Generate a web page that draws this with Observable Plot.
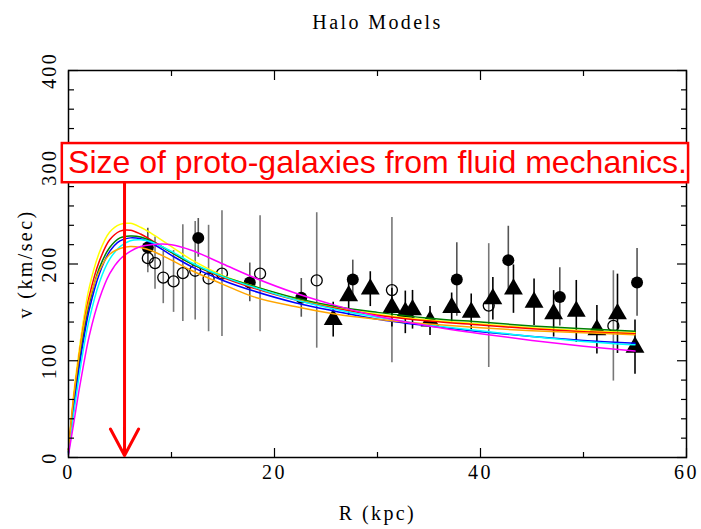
<!DOCTYPE html>
<html>
<head>
<meta charset="utf-8">
<script src="https://cdn.jsdelivr.net/npm/d3@7"></script>
<script src="https://cdn.jsdelivr.net/npm/@observablehq/plot@0.6"></script>
<style>
  html, body { margin: 0; padding: 0; background: #fff; }
  #chart svg { display: block; }
  #chart .lbl, #chart .lbl text { letter-spacing: 2.4px; }
</style>
</head>
<body>
<div id="chart"></div>
<script>
// ---------- data ----------
const title = "Halo Models";
const xLabel = "R (kpc)";
const yLabel = "v (km/sec)";
const xMajor = [0, 20, 40, 60];
const xMinor = [10, 30, 50];
const yMajor = [0, 100, 200, 300, 400];
const yMinor = [20, 40, 60, 80, 120, 140, 160, 180, 220, 240, 260, 280, 320, 340, 360, 380];

// filled circles
const filledR = [7.7, 12.6, 17.6, 22.6, 27.6, 37.7, 42.7, 47.7, 55.2];
const filledV = [217, 227, 181, 165, 184, 184, 204, 166, 181];
const filledE = [20, 20, 20, 20, 20, 38, 35, 30, 35];

// open circles
const openR = [7.7, 8.4, 9.2, 10.2, 11.1, 12.3, 13.6, 14.9, 18.6, 24.1, 31.4, 40.8, 52.9];
const openV = [206, 201, 186, 182, 190.5, 193, 185, 190, 190, 183, 173, 157, 136];
const openE = [15, 27, 27, 32, 50, 51, 55, 65, 60, 70, 75, 64, 57];

// filled triangles
const triR = [25.7, 27.2, 29.3, 31.4, 32.7, 33.4, 35.1, 37.2, 39.1, 41.2, 43.2, 45.2, 47.1, 49.3, 51.3, 53.3, 55.0];
const triV = [142.5, 167, 174, 155, 150, 152.7, 141, 155, 150, 164, 174, 160.5, 148.5, 151, 132, 148.5, 114];
const triE = [18, 20, 18, 20, 22, 20, 15, 15, 19, 22, 25, 24, 24, 32, 25, 41, 28];

// halo model curves
const modelR = [0, 0.5, 1, 1.5, 2, 3, 4, 5, 6, 7, 8, 10, 12, 15, 18, 22, 26, 30, 35, 40, 45, 50, 55];
const modelYellow  = [8, 65, 108, 145, 175, 212, 233, 241, 242, 238, 232, 218, 204, 188, 177, 164, 155, 148, 142, 138, 134, 131, 129];
const modelRed     = [8, 60, 102, 138, 166, 203, 225, 234, 235, 231, 225, 212, 200, 186, 175, 163, 154, 147, 141, 137, 133, 130, 128];
const modelGreen   = [6, 55, 96, 130, 158, 196, 217, 227, 229, 228, 224, 212, 200, 187, 177, 165, 156, 150, 144, 140, 136, 133, 130.5];
const modelBlue    = [5, 50, 90, 124, 152, 190, 213, 224, 227, 226, 222, 209, 197, 183, 172, 160, 151, 143, 136, 130, 125, 121, 118];
const modelCyan    = [4, 45, 82, 115, 142, 181, 205, 218, 224, 225, 223, 213, 201, 187, 176, 163, 153, 145, 137, 131, 125, 120, 116.5];
const modelOrange  = [8, 62, 103, 137, 162, 193, 210, 216, 218, 217, 214, 204, 193, 179, 166, 156, 148, 143, 138, 134, 131, 129, 127];
const modelMagenta = [3, 35, 68, 98, 125, 164, 190, 205, 213, 218, 220, 220, 214, 200, 186, 170, 157, 146, 136, 128, 121, 115, 110];
const modelNames  = ["yellow", "red", "green", "blue", "cyan", "orange", "magenta"];
const modelColors = ["#ffff00", "#ff0000", "#7fff00", "#0000ff", "#00ffff", "#ff8000", "#ff00ff"];
const modelSeries = [modelYellow, modelRed, modelGreen, modelBlue, modelCyan, modelOrange, modelMagenta];

// annotation
const noteText = ["Size of proto-galaxies from fluid mechanics."];
const noteBoxX = [-0.6, 60.2];
const noteBoxY = [284, 324.5];
const noteTextPos = [30.0, 304.4];
const arrowX = [5.44];
const arrowY = [284, 2];

// ---------- tables ----------
const toRows = (R, V, E) => R.map((r, i) => ({r, v: V[i], lo: V[i] - E[i], hi: V[i] + E[i]}));
const filled = toRows(filledR, filledV, filledE);
const open = toRows(openR, openV, openE);
const tri = toRows(triR, triV, triE);
const models = modelSeries.flatMap((s, k) => modelR.map((r, i) => ({r, v: s[i], model: modelNames[k]})));

const serif = "'Liberation Serif', 'DejaVu Serif', serif";
const fs = 20;

const chart = Plot.plot({
  width: 701,
  height: 529,
  marginTop: 70,
  marginBottom: 72,
  marginLeft: 68,
  marginRight: 15,
  style: {fontFamily: serif, background: "#fff", color: "#000"},
  x: {domain: [0, 60], axis: null},
  y: {domain: [0, 400], axis: null},
  color: {domain: modelNames, range: modelColors},
  marks: [
    // error bars
    Plot.ruleX(open, {x: "r", y1: "lo", y2: "hi", stroke: "#777", strokeWidth: 1.6}),
    Plot.ruleX(filled, {x: "r", y1: "lo", y2: "hi", stroke: "#555", strokeWidth: 1.6}),
    Plot.ruleX(tri, {x: "r", y1: "lo", y2: "hi", stroke: "#000", strokeWidth: 1.6}),
    // markers
    Plot.dot(open, {x: "r", y: "v", r: 5.5, stroke: "#000", strokeWidth: 1.3, fill: "none"}),
    Plot.dot(filled, {x: "r", y: "v", r: 6, fill: "#000", stroke: "none"}),
    Plot.dot(tri, {x: "r", y: "v", r: 7, symbol: "triangle", fill: "#000", stroke: "none"}),
    // model curves
    Plot.line(models, {x: "r", y: "v", z: "model", stroke: "model", strokeWidth: 1.5, curve: "catmull-rom"}),
    // frame and ticks
    Plot.frame({stroke: "#000", strokeWidth: 1.5}),
    Plot.axisX({anchor: "bottom", ticks: xMajor, tickSize: -9, tickFormat: () => "", label: null, strokeWidth: 1.2}),
    Plot.axisX({anchor: "bottom", ticks: xMinor, tickSize: -5, tickFormat: () => "", label: null, strokeWidth: 1.2}),
    Plot.axisX({anchor: "top", ticks: xMajor, tickSize: -9, tickFormat: () => "", label: null, strokeWidth: 1.2}),
    Plot.axisX({anchor: "top", ticks: xMinor, tickSize: -5, tickFormat: () => "", label: null, strokeWidth: 1.2}),
    Plot.axisY({anchor: "left", ticks: yMajor, tickSize: -10, tickFormat: () => "", label: null, strokeWidth: 1.2}),
    Plot.axisY({anchor: "left", ticks: yMinor, tickSize: -6, tickFormat: () => "", label: null, strokeWidth: 1.2}),
    Plot.axisY({anchor: "right", ticks: yMajor, tickSize: -10, tickFormat: () => "", label: null, strokeWidth: 1.2}),
    Plot.axisY({anchor: "right", ticks: yMinor, tickSize: -6, tickFormat: () => "", label: null, strokeWidth: 1.2}),
    // tick labels
    Plot.text(xMajor, {x: d => d, frameAnchor: "bottom", dy: 21, text: d => String(d), fontSize: fs, textAnchor: "middle", className: "lbl"}),
    Plot.text(yMajor, {y: d => d, frameAnchor: "left", dx: -19, rotate: -90, text: d => String(d), fontSize: fs, textAnchor: "middle", className: "lbl"}),
    // axis titles
    Plot.text([xLabel], {frameAnchor: "bottom", dy: 62, text: d => d, fontSize: fs, textAnchor: "middle", className: "lbl"}),
    Plot.text([yLabel], {frameAnchor: "left", dx: -43, rotate: -90, text: d => d, fontSize: fs, textAnchor: "middle", className: "lbl"}),
    Plot.text([title], {frameAnchor: "top", dy: -56, text: d => d, fontSize: fs, textAnchor: "middle", className: "lbl"}),
    // annotation
    Plot.rect([0], {x1: () => noteBoxX[0], x2: () => noteBoxX[1], y1: () => noteBoxY[0], y2: () => noteBoxY[1], fill: "#fff", stroke: "#ff0000", strokeWidth: 2.5}),
    Plot.text(noteText, {x: () => noteTextPos[0], y: () => noteTextPos[1], text: d => d, fill: "#ff0000", fontSize: 32, fontFamily: "'Liberation Sans', Arial, sans-serif", textAnchor: "middle"}),
    Plot.arrow([0], {x1: () => arrowX[0], x2: () => arrowX[0], y1: () => arrowY[0], y2: () => arrowY[1], stroke: "#ff0000", strokeWidth: 3, headLength: 15, headAngle: 56})
  ]
});
document.getElementById("chart").append(chart);
</script>
</body>
</html>
